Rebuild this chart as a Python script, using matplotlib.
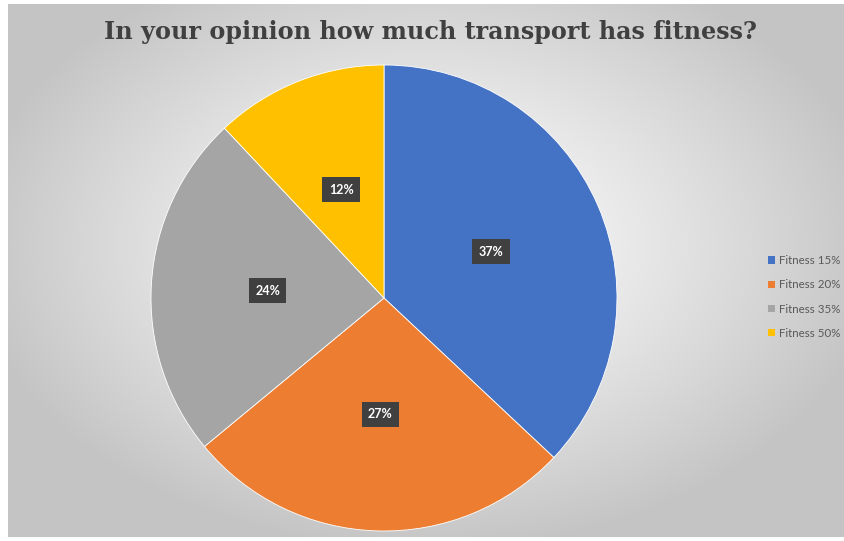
import numpy as np
import matplotlib.pyplot as plt
from matplotlib.patches import Patch

labels = ["Fitness 15%", "Fitness 20%", "Fitness 35%", "Fitness 50%"]
shares = [37, 27, 24, 12]
colors = ["#4472C4", "#ED7D31", "#A5A5A5", "#FFC000"]
title = "In your opinion how much transport has fitness?"

W, H = 844, 541
fig = plt.figure(figsize=(W / 100, H / 100), dpi=100)
fig.patch.set_facecolor("white")

# chart area with a radial grey gradient
x0, y0, x1, y1 = 8, 4, 844, 537
bg = fig.add_axes([x0 / W, 1 - y1 / H, (x1 - x0) / W, (y1 - y0) / H])
bg.set_axis_off()
gx = np.linspace(-1, 1, 400)
gy = np.linspace(-1, 1, 260)
GX, GY = np.meshgrid(gx, gy)
cx, cy = 0.0, -0.1
r = np.sqrt(((GX - cx) / 1.1) ** 2 + ((GY - cy) / 1.15) ** 2)
r = np.clip(r, 0, 1)
light = 1.0 - 0.23 * r ** 1.2
img = np.dstack([light, light, light])
bg.imshow(img, extent=[0, 1, 0, 1], aspect="auto", origin="upper")
bg.set_xlim(0, 1)
bg.set_ylim(0, 1)

# pie
pcx, pcy, pr = 384, 298, 233
ax = fig.add_axes([(pcx - pr) / W, 1 - (pcy + pr) / H, 2 * pr / W, 2 * pr / H])
ax.set_aspect("equal")
wedges, texts = ax.pie(
    shares, colors=colors, startangle=90, counterclock=False,
    radius=1.0, labels=[f"{s}%" for s in shares], labeldistance=0.5,
    wedgeprops=dict(linewidth=0.6, edgecolor="white"),
)
for t in texts:
    t.set_ha("center")
    t.set_va("center")
    t.set_color("white")
    t.set_fontweight("bold")
    t.set_fontsize(9)
    t.set_fontfamily("Lato")
    t.set_bbox(dict(boxstyle="square,pad=0.5", facecolor="#404040",
                    edgecolor="none"))
ax.set_xlim(-1, 1)
ax.set_ylim(-1, 1)

# title
fig.text(431 / W, 1 - 32 / H, title, ha="center", va="center",
         fontsize=17.2, fontweight="bold", family="DejaVu Serif",
         color="#404040")

# legend
handles = [Patch(facecolor=c, edgecolor="none") for c in colors]
fig.legend(handles, labels, loc="center left",
           bbox_to_anchor=(758 / W, 1 - 297 / H), frameon=False,
           handlelength=0.6, handleheight=0.6,
           handletextpad=0.3, labelspacing=1.15, labelcolor="#595959",
           prop=dict(family="Lato", size=8.3))

fig.savefig("out.png", dpi=100)
